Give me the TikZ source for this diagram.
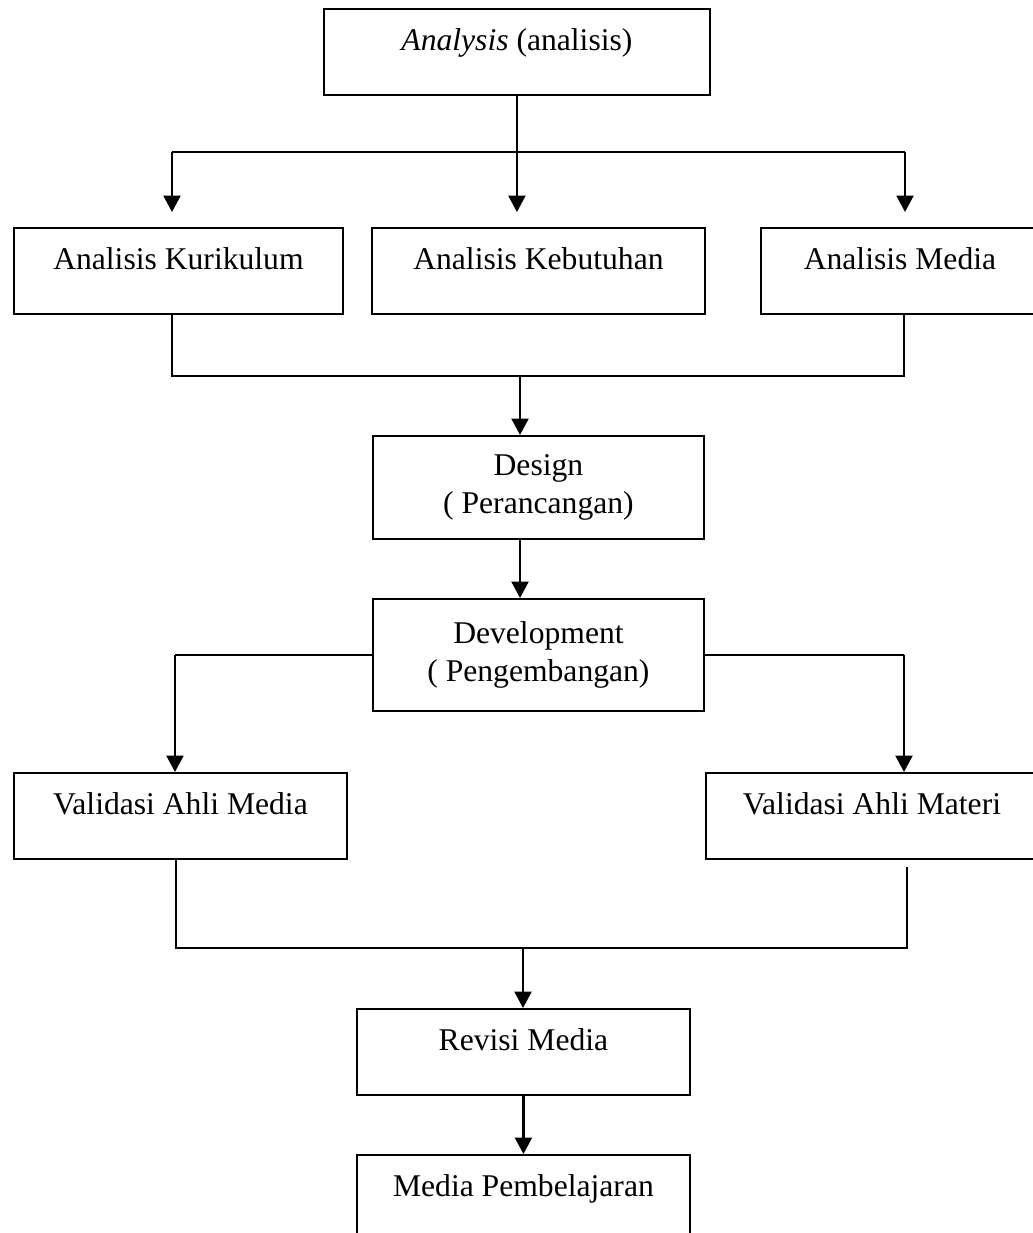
\documentclass[tikz,border=0pt]{standalone}
\usepackage{fontspec}
\setmainfont{Liberation Serif}
\usepackage{tikz}
\usetikzlibrary{positioning,arrows.meta}

\begin{document}
\begin{tikzpicture}[
    x=0.02cm, y=-0.02cm,
    box/.style={draw, line width=1.1pt, inner sep=0pt, anchor=north west, minimum width=#1, text height=0.84cm, text depth=0.88cm, font=\fontsize{18}{21.6}\selectfont},
    tallbox/.style={draw, line width=1.1pt, inner sep=0pt, anchor=north west, align=center, font=\fontsize{18}{21.6}\selectfont},
    arrow/.style={-{Triangle[length=0.33cm,width=0.34cm]}, line width=1.4pt},
    link/.style={line width=1pt},
]
\useasboundingbox (0,0) rectangle (1032,1233);

\node[box=7.72cm] (analysis) at (323,8) {\textit{Analysis} (analisis)};

\node[box=6.58cm] (kurikulum) at (13,227) {Analisis Kurikulum};
\node[box=6.66cm] (kebutuhan) at (371,227) {Analisis Kebutuhan};
\node[box=5.56cm] (media) at (760,227) {Analisis Media};

\node[tallbox, minimum width=6.62cm, minimum height=2.06cm] (design) at (372,435) {Design\\ ( Perancangan)};
\node[tallbox, minimum width=6.62cm, minimum height=2.24cm] (development) at (372,598) {Development\\ ( Pengembangan)};

\node[box=6.66cm] (valmedia) at (13,772) {Validasi Ahli Media};
\node[box=6.64cm] (valmateri) at (705,772) {Validasi Ahli Materi};

\node[box=6.66cm] (revisi) at (356,1008) {Revisi Media};
\node[box=6.66cm] (produk) at (356,1154) {Media Pembelajaran};

% Analysis branches
\coordinate (busA) at (172,152);
\coordinate (busB) at (905,152);
\draw[link, line width=1.3pt] (busA) -- (busB);
\draw[arrow, shorten >=0.3cm] (analysis.south) -- (analysis.south |- kebutuhan.north);
\draw[arrow, shorten >=0.3cm] (busA) -- (busA |- kurikulum.north);
\draw[arrow, shorten >=0.3cm] (busB) -- (busB |- media.north);

% Merge into design
\coordinate (joinA) at (172,376);
\coordinate (joinB) at (904,376);
\coordinate (mergeA) at (520,376);
\draw[link] (joinA |- kurikulum.south) -- (joinA) -- (joinB) -- (joinB |- media.south);
\draw[arrow] (mergeA) -- (mergeA |- design.north);
\draw[arrow] (mergeA |- design.south) -- (mergeA |- development.north);

% Development branches
\coordinate (devL) at (175,655);
\coordinate (devR) at (904,655);
\draw[link] (development.west) -- (devL);
\draw[link] (development.east) -- (devR);
\draw[arrow] (devL) -- (devL |- valmedia.north);
\draw[arrow] (devR) -- (devR |- valmateri.north);

% Merge into revision
\coordinate (joinC) at (176,948);
\coordinate (joinD) at (907,948);
\coordinate (mergeB) at (523,948);
\draw[link, line width=1.3pt] (joinC |- valmedia.south) -- (joinC) -- (joinD) -- ([yshift=-0.14cm]joinD |- valmateri.south);
\draw[arrow] (mergeB) -- (mergeB |- revisi.north);
\draw[arrow] (revisi) -- (produk);

\end{tikzpicture}
\end{document}
